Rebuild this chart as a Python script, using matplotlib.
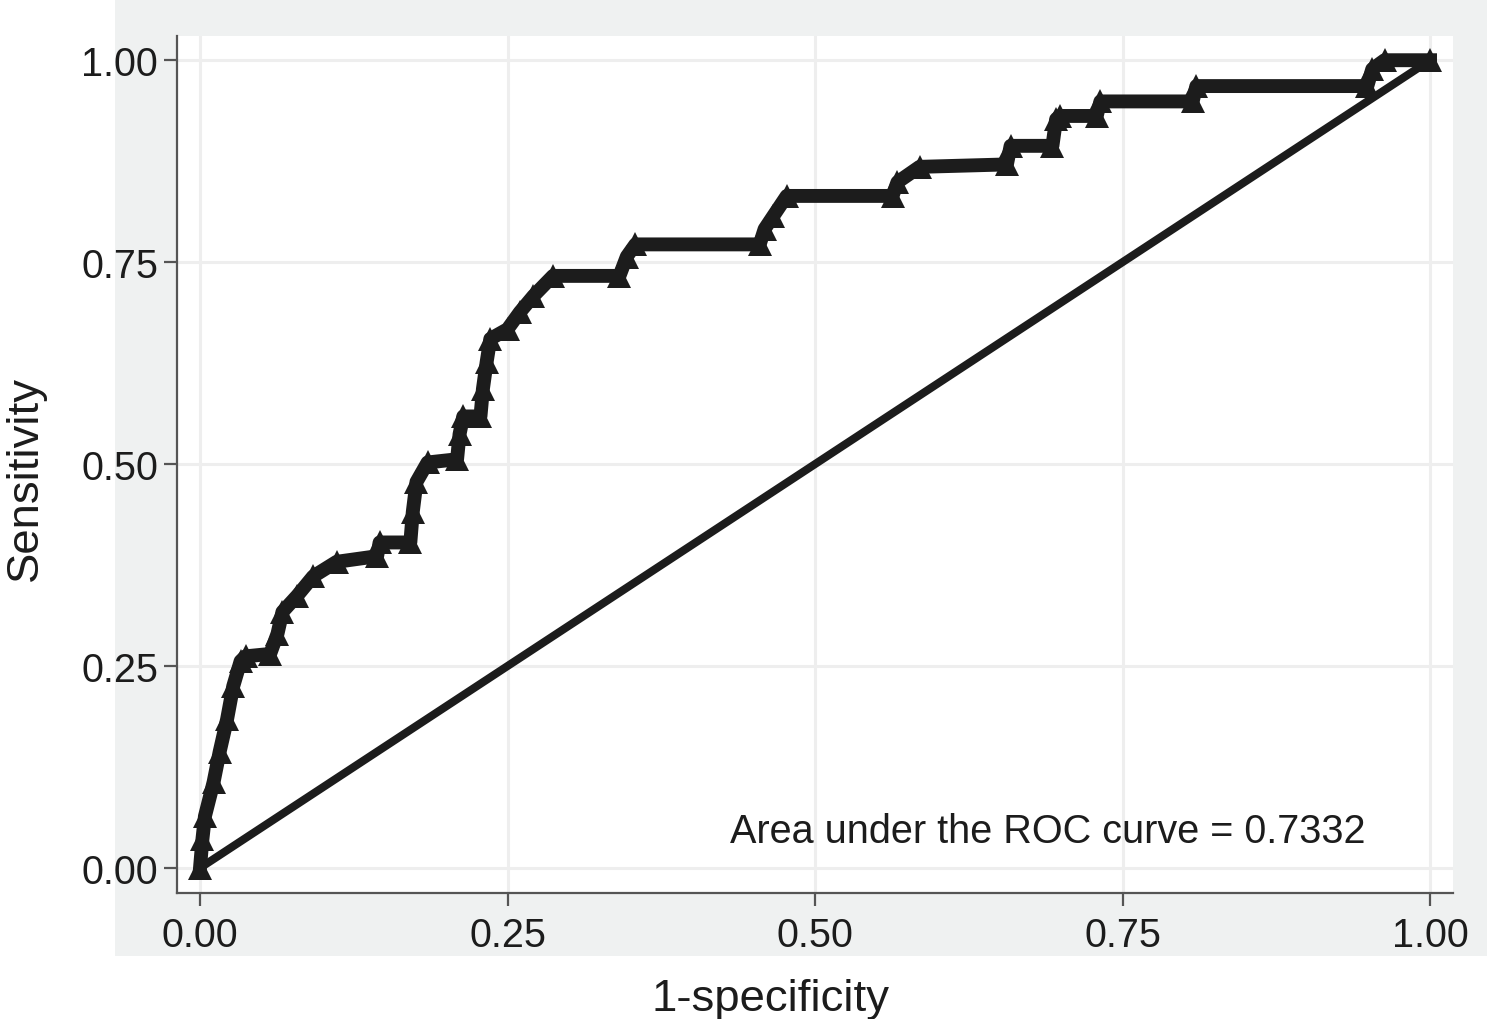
import matplotlib
matplotlib.use("Agg")
import matplotlib.pyplot as plt
from matplotlib import font_manager
from matplotlib.patches import Rectangle

# -----------------------------
# ROC data
# -----------------------------
fpr = [0.000, 0.002, 0.004, 0.011, 0.016, 0.022, 0.027, 0.033, 0.037, 0.057,
       0.063, 0.067, 0.079, 0.092, 0.111, 0.144, 0.146, 0.171, 0.173, 0.176,
       0.185, 0.209, 0.211, 0.214, 0.228, 0.230, 0.233, 0.236, 0.250, 0.260,
       0.271, 0.287, 0.341, 0.347, 0.354, 0.455, 0.459, 0.466, 0.477, 0.563,
       0.567, 0.585, 0.656, 0.659, 0.693, 0.696, 0.699, 0.729, 0.732, 0.807,
       0.810, 0.949, 0.953, 0.963, 1.000]
tpr = [0.000, 0.036, 0.064, 0.106, 0.144, 0.184, 0.225, 0.256, 0.262, 0.265,
       0.290, 0.317, 0.337, 0.361, 0.379, 0.386, 0.403, 0.403, 0.441, 0.478,
       0.502, 0.506, 0.537, 0.559, 0.559, 0.593, 0.626, 0.655, 0.667, 0.688,
       0.708, 0.733, 0.733, 0.757, 0.772, 0.772, 0.791, 0.807, 0.832, 0.832,
       0.849, 0.868, 0.871, 0.894, 0.894, 0.927, 0.931, 0.931, 0.949, 0.949,
       0.968, 0.968, 0.989, 1.000, 1.000]

ref_line = [0.0, 1.0]
tick_vals = [0.00, 0.25, 0.50, 0.75, 1.00]
tick_labels = ["0.00", "0.25", "0.50", "0.75", "1.00"]
auc_text = "Area under the ROC curve = 0.7332"

# -----------------------------
# Fonts (narrow Helvetica look)
# -----------------------------
names = {f.name for f in font_manager.fontManager.ttflist}
if "Liberation Sans Narrow" in names:
    fam, k = ["Liberation Sans Narrow", "DejaVu Sans"], 1.0
else:
    fam, k = ["Liberation Sans", "DejaVu Sans"], 0.84
plt.rcParams["font.family"] = fam

ink = "#1c1c1c"
axis_grey = "#555555"

# -----------------------------
# Plot
# -----------------------------
fig = plt.figure(figsize=(15, 10.2), dpi=100, facecolor="white")

# grey outer panel like Stata's graph region
fig.patches.append(Rectangle((0.0767, 0.0618), 0.9146, 0.95, transform=fig.transFigure,
                             facecolor="#eff1f1", edgecolor="none", zorder=-5))

ax = fig.add_axes([0.118, 0.1235, 0.8507, 0.840])
ax.set_zorder(1)
ax.set_facecolor("white")

ax.plot(ref_line, ref_line, color=ink, lw=5.8, solid_capstyle="butt", zorder=3)
ax.plot(fpr, tpr, color=ink, lw=10, solid_joinstyle="round",
        marker="^", markersize=17, markeredgewidth=0, zorder=4)

ax.set_xlim(-0.0187, 1.0187)
ax.set_ylim(-0.031, 1.0297)
ax.set_xticks(tick_vals)
ax.set_xticklabels(tick_labels)
ax.set_yticks(tick_vals)
ax.set_yticklabels(tick_labels)

ax.grid(True, color="#eeeeee", lw=2.2, zorder=0)
ax.set_axisbelow(True)

for s in ["top", "right"]:
    ax.spines[s].set_visible(False)
for s in ["left", "bottom"]:
    ax.spines[s].set_color(axis_grey)
    ax.spines[s].set_linewidth(1.6)

ax.tick_params(axis="both", direction="out", length=9.5, width=1.6,
               color=axis_grey, labelcolor=ink, labelsize=34 * k)
ax.tick_params(axis="x", pad=7)
ax.tick_params(axis="y", pad=4)

ax.set_xlabel("1-specificity", fontsize=39 * k, color=ink)
ax.set_ylabel("Sensitivity", fontsize=39 * k, color=ink)
ax.xaxis.set_label_coords(0.465, -0.099)
ax.yaxis.set_label_coords(-0.103, 0.485)

ax.text(0.431, 0.046, auc_text, fontsize=34 * k, color=ink,
        ha="left", va="center", zorder=5)

plt.savefig("out.png", dpi=100, facecolor="white")
